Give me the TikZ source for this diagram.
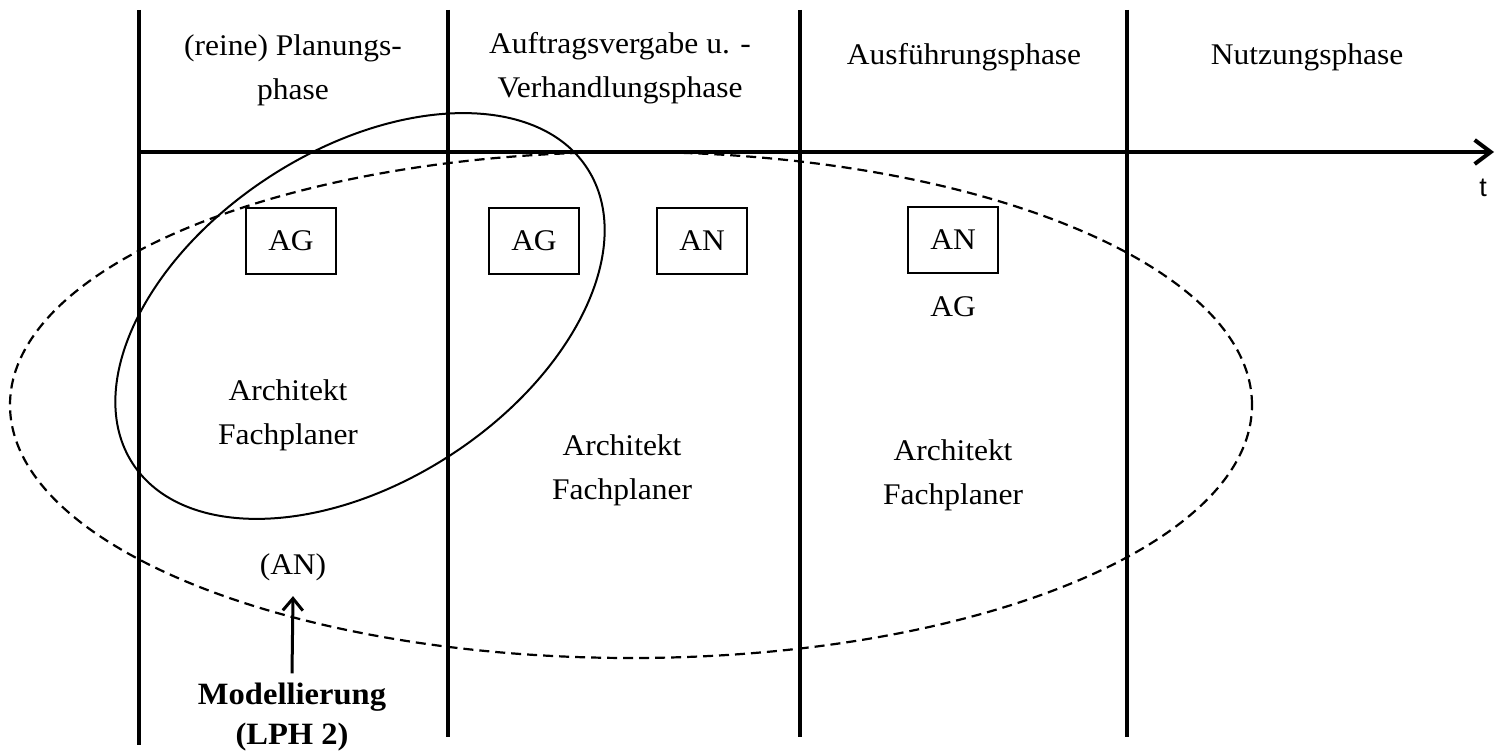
\documentclass[tikz,border=0pt]{standalone}
\usepackage{fontspec}
\setmainfont{Liberation Serif}[FakeStretch=1.05]
\newfontfamily\axisfont{Liberation Sans}
\usetikzlibrary{arrows.meta}

\begin{document}
\begin{tikzpicture}[x=1pt, y=1pt,
  every node/.style = {align=center, font=\fontsize{30}{44}\selectfont},
  divider/.style = {line width=4pt},
  roleframe/.style = {draw, line width=1.5pt, minimum width=90pt,
     minimum height=66pt, inner sep=0pt}]
\useasboundingbox (0,0) rectangle (1500,753);
% phase borders
\foreach \x in {448,800,1127}
  \draw[divider] (\x,743) -- (\x,16);
\draw[divider] (139,743) -- (139,8);
% time axis
\draw[line width=4pt, -{Straight Barb[length=16pt, width=24pt, line width=4pt]}] (139,601) -- (1494,601);
\node[font=\axisfont\fontsize{27}{30}\selectfont] (t) at (1483,565) {t};
% phases
\node (ph1) at (293,683) {(reine) Planungs-\\phase};
\node (ph2) at (620,685) {Auftragsvergabe u. -\\Verhandlungsphase};
\node (ph3) at (964,696) {Ausführungsphase};
\node (ph4) at (1307,696) {Nutzungsphase};
% roles
\node[roleframe] (ag1) at (291,512) {AG};
\node[roleframe] (ag2) at (534,512) {AG};
\node[roleframe] (an2) at (702,512) {AN};
\node[roleframe] (an3) at (953,513) {AN};
\node (ag3) at (953,446) {AG};
\node (pl1) at (288,338) {Architekt\\Fachplaner};
\node (pl2) at (622,283) {Architekt\\Fachplaner};
\node (pl3) at (953,278) {Architekt\\Fachplaner};
\node (an1) at (293,186) {(AN)};
\node[font=\bfseries\fontsize{31}{40}\selectfont] (model) at (292,36) {Modellierung\\(LPH 2)};
\draw[line width=3pt, -{Straight Barb[length=12pt, width=20pt, line width=3pt]}]
  ([yshift=6pt]model.north) -- ([yshift=-12pt]an1.south);
% groups
\draw[line width=2pt, rotate around={33:(360,437)}] (360,437) ellipse [x radius=271, y radius=166];
\draw[line width=2.2pt, dash pattern=on 10pt off 6pt] (631,348) ellipse [x radius=621, y radius=253];
\end{tikzpicture}
\end{document}
